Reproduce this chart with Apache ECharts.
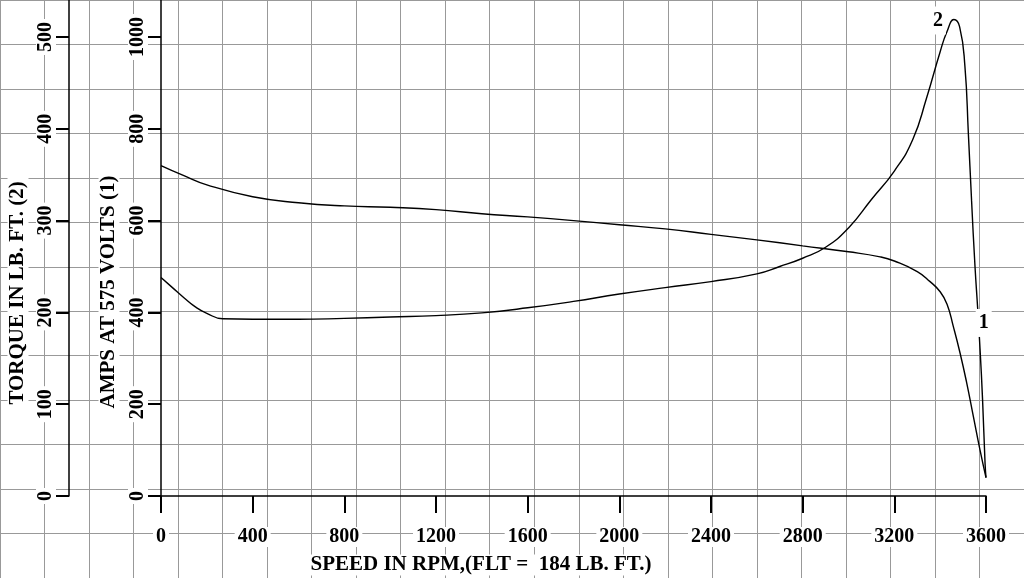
<!DOCTYPE html>
<html><head><meta charset="utf-8">
<script src="https://cdn.jsdelivr.net/npm/echarts@6/dist/echarts.min.js"></script>
<style>html,body{margin:0;padding:0;background:#fff}#c{width:1024px;height:578px}</style>
</head><body><div id="c"></div>
<script>
// ---- data ----
const rpmTicks = [0, 400, 800, 1200, 1600, 2000, 2400, 2800, 3200, 3600];
const torqueTicks = [0, 100, 200, 300, 400, 500];
const ampsTicks = [0, 200, 400, 600, 800, 1000];

const ampsRpm = [0, 100, 200, 400, 600, 800, 1000, 1200, 1400, 1600, 1800, 2000, 2200, 2400, 2600, 2800, 3000, 3138, 3200, 3300, 3356, 3400, 3430, 3457, 3487, 3516, 3545, 3574, 3600];
const ampsValues = [720, 698, 678, 652, 639, 632, 629, 624, 615, 608, 600, 591, 582, 570, 558, 545, 532, 521, 512, 489, 467, 445, 418, 370, 311, 246, 173, 100, 40];

const torqueRpm = [0, 50, 100, 150, 200, 270, 400, 600, 800, 1000, 1200, 1400, 1600, 1800, 2000, 2200, 2400, 2600, 2700, 2800, 2900, 3000, 3100, 3200, 3280, 3340, 3400, 3430, 3460, 3485, 3508, 3523, 3537, 3552, 3564, 3574, 3585, 3596, 3600];
const torqueValues = [238, 227, 216, 206, 199, 193, 192.5, 192.5, 193.5, 195, 196.5, 199.5, 205, 212, 220, 227, 233.5, 242, 250, 259, 271, 292, 323, 354, 388, 433, 484, 506, 519, 511, 468, 395, 322, 250, 203, 160, 105, 35, 20];

const ampsCurveLabel = { text: '1', rpm: 3590, value: 377 };
const torqueCurveLabel = { text: '2', rpm: 3390, value: 518 };

const xTitle = 'SPEED IN RPM,(FLT =  184 LB. FT.)';
const torqueTitle = 'TORQUE IN LB. FT. (2)';
const ampsTitle = 'AMPS AT 575 VOLTS (1)';

// ---- chart ----
const FONT = '"Liberation Serif", "Times New Roman", serif';
const pairs = (xs, ys) => xs.map((x, i) => [x, ys[i]]);
const gridLine = { show: true, lineStyle: { color: '#999', width: 1 } };
const hidden = { show: false };
const blackLine = { show: true, lineStyle: { color: '#000', width: 1.5 } };
const tickLabel = (margin, rotate) => ({
  show: true, margin: margin, rotate: rotate, color: '#000',
  fontFamily: FONT, fontWeight: 'bold', fontSize: 20,
  backgroundColor: '#fff', padding: [0, 3],
  formatter: (v) => String(v)
});
const curveLabel = (lbl) => ({
  symbol: 'rect', symbolSize: 1, itemStyle: { color: 'rgba(0,0,0,0)' },
  label: { show: true, position: 'inside', formatter: lbl.text, color: '#000',
    fontFamily: FONT, fontWeight: 'bold', fontSize: 20,
    backgroundColor: '#fff', padding: [4, 3] },
  data: [{ coord: [lbl.rpm, lbl.value] }]
});

const chart = echarts.init(document.getElementById('c'), null, { renderer: 'canvas' });
chart.setOption({
  animation: false,
  backgroundColor: '#fff',
  grid: [
    { left: -22.3, right: -7.8, top: -8.9, bottom: -9.8, containLabel: false },
    { left: 161, right: 38, top: 0, bottom: 82, containLabel: false }
  ],
  xAxis: [
    { gridIndex: 0, type: 'value', min: -800, max: 3800, interval: 200,
      axisLine: hidden, axisTick: hidden, axisLabel: hidden, splitLine: gridLine },
    { gridIndex: 1, type: 'value', min: 0, max: 3600, interval: 400,
      axisLine: Object.assign({ onZero: false }, blackLine),
      axisTick: { show: true, length: 17, lineStyle: { color: '#000', width: 2 } },
      axisLabel: Object.assign(tickLabel(31, 0), { customValues: rpmTicks }),
      splitLine: hidden }
  ],
  yAxis: [
    { gridIndex: 0, type: 'value', min: -100, max: 550, interval: 50,
      axisLine: hidden, axisTick: hidden, axisLabel: hidden, splitLine: gridLine },
    { gridIndex: 1, type: 'value', position: 'left', min: 0, max: 1080.6,
      axisLine: blackLine,
      axisTick: { show: true, length: 16, customValues: ampsTicks, lineStyle: { color: '#000', width: 2 } },
      axisLabel: Object.assign(tickLabel(13, 90), { customValues: ampsTicks }),
      splitLine: hidden },
    { gridIndex: 1, type: 'value', position: 'left', offset: 92, min: 0, max: 540.3,
      axisLine: blackLine,
      axisTick: { show: true, length: 17, customValues: torqueTicks, lineStyle: { color: '#000', width: 2 } },
      axisLabel: Object.assign(tickLabel(13, 90), { customValues: torqueTicks }),
      splitLine: hidden }
  ],
  series: [
    { type: 'line', name: 'amps', xAxisIndex: 1, yAxisIndex: 1,
      data: pairs(ampsRpm, ampsValues), showSymbol: false, symbol: 'none',
      smooth: 0.5,
      lineStyle: { color: '#000', width: 1.4 }, z: 3,
      markPoint: curveLabel(ampsCurveLabel) },
    { type: 'line', name: 'torque', xAxisIndex: 1, yAxisIndex: 2,
      data: pairs(torqueRpm, torqueValues), showSymbol: false, symbol: 'none',
      smooth: 0.5,
      lineStyle: { color: '#000', width: 1.4 }, z: 3,
      markPoint: curveLabel(torqueCurveLabel) }
  ],
  graphic: [
    { type: 'text', x: 18, y: 293, rotation: Math.PI / 2, z: 10,
      style: { text: torqueTitle, fontFamily: FONT, fontWeight: 'bold', fontSize: 21,
        fill: '#000', align: 'center', verticalAlign: 'middle', backgroundColor: '#fff', padding: [0, 6] } },
    { type: 'text', x: 109, y: 292, rotation: Math.PI / 2, z: 10,
      style: { text: ampsTitle, fontFamily: FONT, fontWeight: 'bold', fontSize: 21,
        fill: '#000', align: 'center', verticalAlign: 'middle', backgroundColor: '#fff', padding: [0, 6] } },
    { type: 'text', x: 481, y: 565, z: 10,
      style: { text: xTitle, fontFamily: FONT, fontWeight: 'bold', fontSize: 21,
        fill: '#000', align: 'center', verticalAlign: 'middle', backgroundColor: '#fff', padding: [0, 5] } }
  ]
});
</script>
</body></html>
